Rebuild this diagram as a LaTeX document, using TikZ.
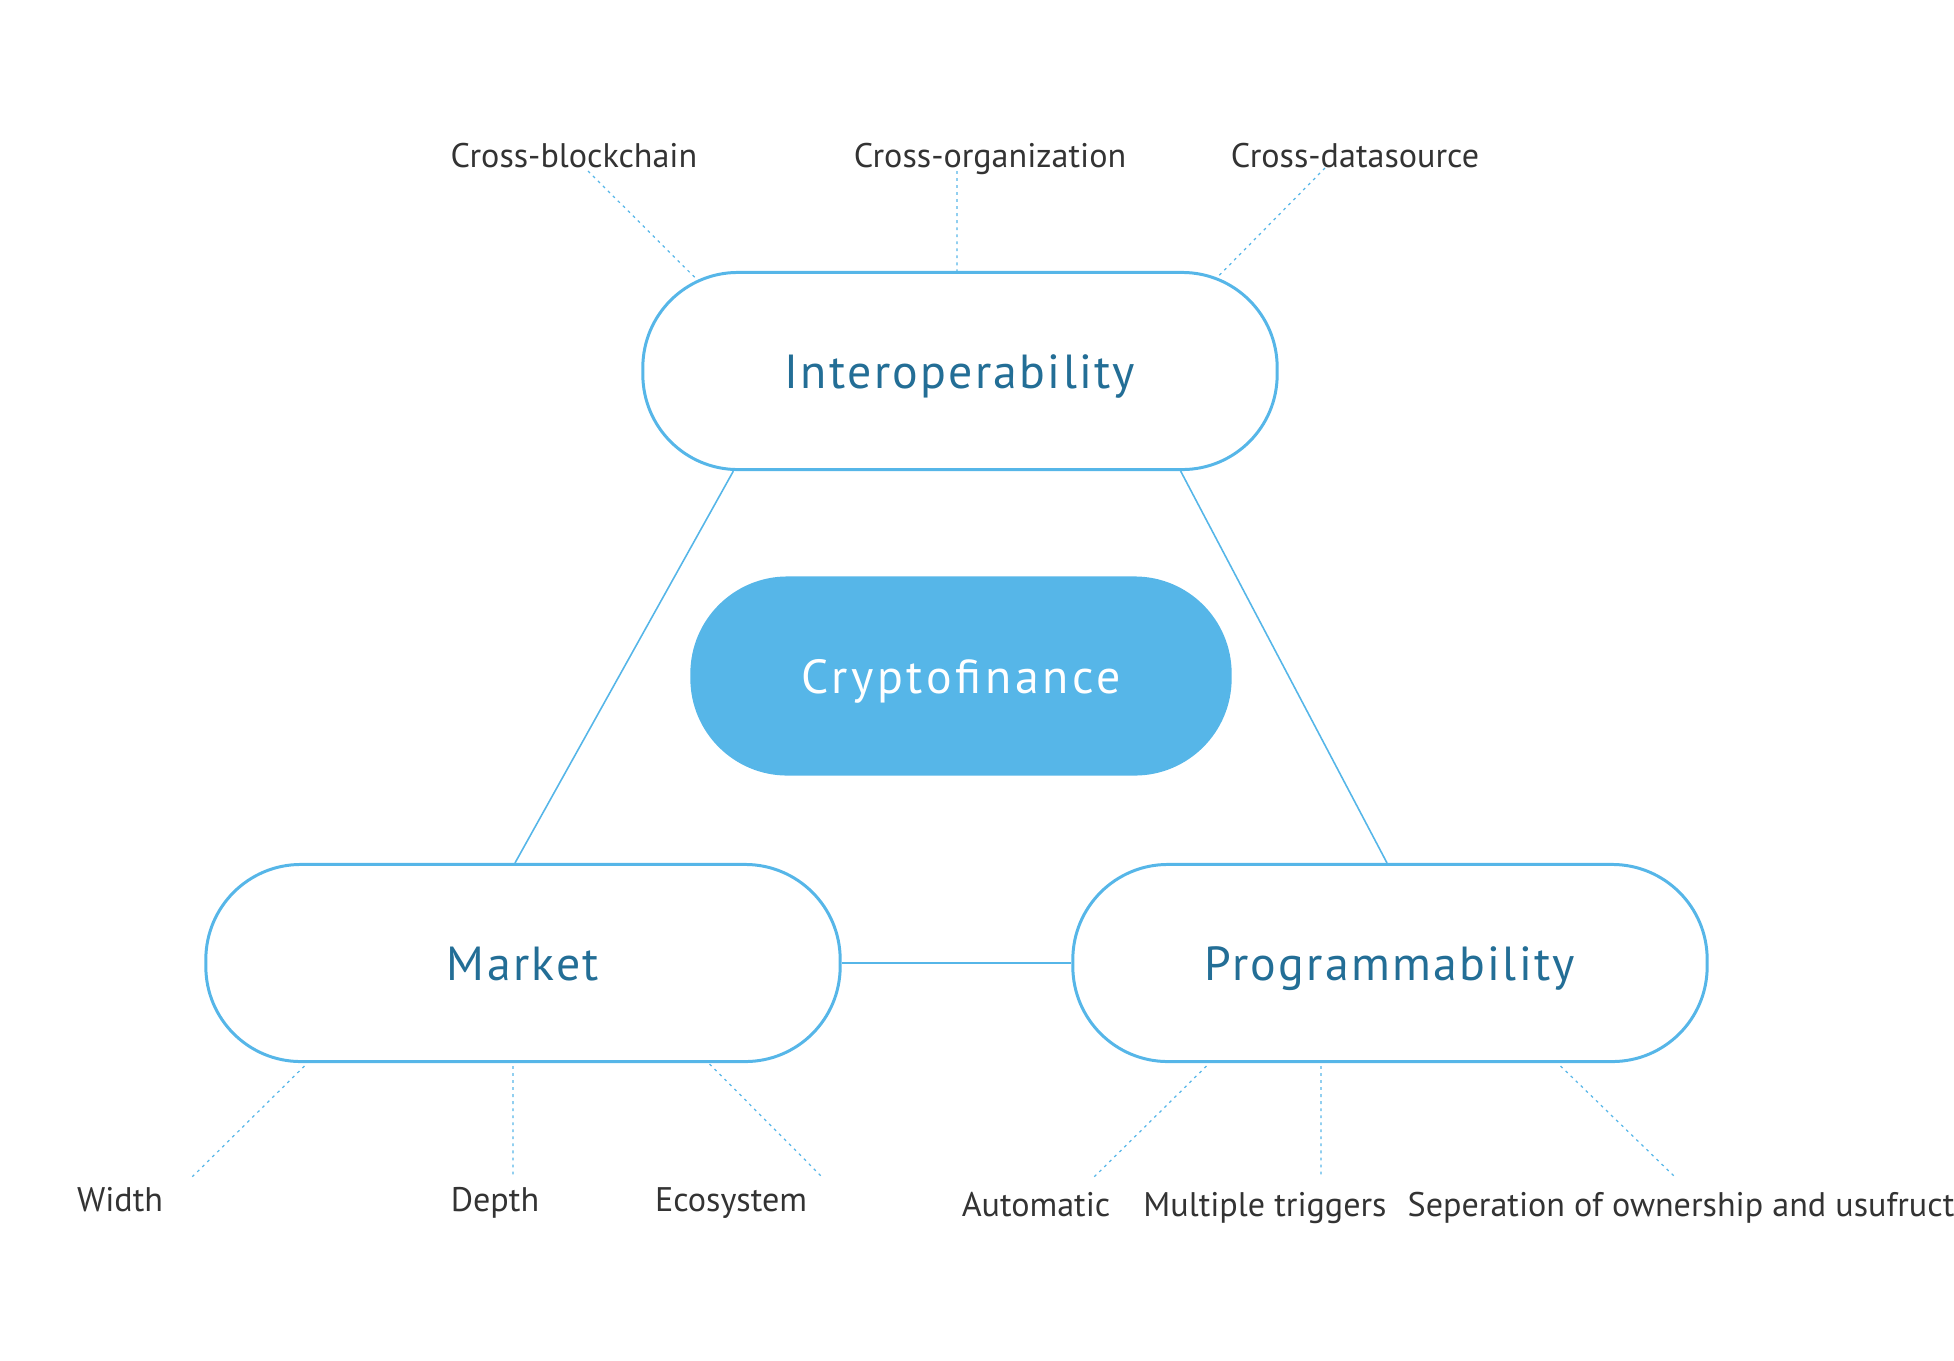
\documentclass[tikz,border=0pt]{standalone}
\usepackage{fontspec}
\setmainfont{PT Sans}
\newfontfamily\pillfont[LetterSpace=4.8]{PT Sans}
\newfontfamily\corefont[LetterSpace=7.7]{PT Sans}
\usepackage{tikz}
\definecolor{cblue}{RGB}{86,182,232}
\definecolor{ctext}{RGB}{35,110,150}
\definecolor{cgray}{RGB}{51,51,51}

\begin{document}
\begin{tikzpicture}[x=0.01cm,y=-0.01cm,
    pill/.style={draw=cblue,line width=0.85pt,fill=white,rounded corners=0.95cm,
        minimum width=6.34cm,minimum height=1.97cm,text height=9.8pt,text depth=0pt,
        text=ctext,font=\pillfont\fontsize{13.6}{16}\selectfont},
    core/.style={fill=cblue,rounded corners=0.97cm,minimum width=5.41cm,minimum height=1.99cm,
        text height=9.8pt,text depth=0pt,text=white,font=\corefont\fontsize{13.6}{16}\selectfont},
    lab/.style={anchor=base,text=cgray,font=\fontsize{9.7}{12}\selectfont},
    link/.style={draw=cblue,line width=0.45pt},
    leader/.style={draw=cblue,line width=0.35pt,dash pattern=on 0.8pt off 1.2pt}]
    \useasboundingbox (0,0) rectangle (1954,1360);

    \node[pill] (interop) at (960,371) {Interoperability};
    \node[core] (crypto) at (961,676) {Cryptofinance};
    \node[pill] (market) at (523,963) {Market};
    \node[pill] (prog) at (1390,963) {Programmability};

    \draw[link] ([xshift=0.92cm]interop.south west) -- ([xshift=-0.08cm]market.north);
    \draw[link] ([xshift=-0.98cm]interop.south east) -- ([xshift=-0.03cm]prog.north);
    \draw[link] (market.east) -- (prog.west);

    % top labels
    \node[lab] (xchain) at (574,167) {Cross-blockchain};
    \node[lab] (xorg) at (990,167) {Cross-organization};
    \node[lab] (xdata) at (1355,167) {Cross-datasource};

    \draw[leader] ([xshift=0.14cm,yshift=-0.04cm]xchain.base) -- ([xshift=0.55cm,yshift=-0.08cm]interop.north west);
    \draw[leader] ([xshift=-0.33cm,yshift=-0.04cm]xorg.base) -- ([xshift=-0.03cm]interop.north);
    \draw[leader] ([xshift=-0.30cm,yshift=-0.01cm]xdata.base) -- ([xshift=-0.60cm,yshift=-0.05cm]interop.north east);

    % bottom labels
    \node[lab] (width) at (120,1211) {Width};
    \node[lab] (depth) at (495,1211) {Depth};
    \node[lab] (eco) at (731,1211) {Ecosystem};
    \node[lab] (auto) at (1036,1216) {Automatic};
    \node[lab] (trig) at (1265,1216) {Multiple triggers};
    \node[lab] (sep) at (1681,1216) {Seperation of ownership and usufruct};

    \draw[leader] ([xshift=1.00cm,yshift=-0.03cm]market.south west) -- ([xshift=0.71cm,yshift=0.33cm]width.base);
    \draw[leader] ([xshift=-0.10cm,yshift=-0.03cm]market.south) -- ([xshift=0.18cm,yshift=0.33cm]depth.base);
    \draw[leader] ([xshift=-1.32cm,yshift=-0.01cm]market.south east) -- ([xshift=0.92cm,yshift=0.33cm]eco.base);
    \draw[leader] ([xshift=1.35cm,yshift=-0.03cm]prog.south west) -- ([xshift=0.57cm,yshift=0.38cm]auto.base);
    \draw[leader] ([xshift=-0.69cm,yshift=-0.03cm]prog.south) -- ([xshift=0.56cm,yshift=0.38cm]trig.base);
    \draw[leader] ([xshift=-1.48cm,yshift=-0.03cm]prog.south east) -- ([xshift=-0.05cm,yshift=0.38cm]sep.base);
\end{tikzpicture}
\end{document}
